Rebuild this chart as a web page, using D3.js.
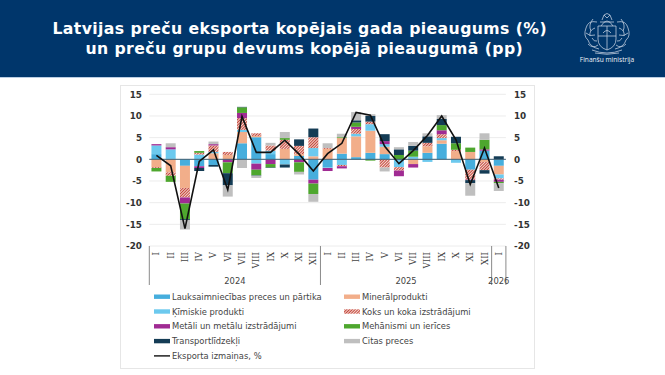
<!DOCTYPE html>
<html><head><meta charset="utf-8">
<script src="https://cdn.jsdelivr.net/npm/d3@7"></script>
<style>html,body{margin:0;padding:0;background:#fff;overflow:hidden}svg{display:block}</style>
</head><body><svg id="c" width="665" height="375"></svg>
<script>
const titleLines = ["Latvijas preču eksporta kopējais gada pieaugums (%)", "un preču grupu devums kopējā pieaugumā (pp)"];
const months = ["I","II","III","IV","V","VI","VII","VIII","IX","X","XI","XII","I","II","III","IV","V","VI","VII","VIII","IX","X","XI","XII","I"];
const years = [["2024",0,12],["2025",12,24],["2026",24,25]];
const seriesNames = ["Lauksaimniecības preces un pārtika","Minerālprodukti","Ķīmiskie produkti","Koks un koka izstrādājumi","Metāli un metālu izstrādājumi","Mehānismi un ierīces","Transportlīdzekļi","Citas preces"];
const lineName = "Eksporta izmaiņas, %";
const agri      = [1.2,0.1,-1.5,-1.6,-1.3,0,3.7,5.1,1.2,0,0.8,-4.7,-1.9,1.3,0.5,1.5,1.2,0,0.2,1.5,3.6,0,-2.4,2.0,-1.5];
const mineral   = [-1.8,-3.0,-5.1,0,1.4,1.0,2.6,0.3,0,2.4,0.4,0.7,2.4,3.6,4.8,5.1,1.7,0,-1.1,1.5,0.8,1.9,1.7,-0.6,-2.0];
const chemical  = [2.0,2.2,0,1.1,0.3,0,0.5,-1.0,0.8,-1.2,0,1.9,-0.1,-1.3,0.6,1.5,0.6,-1.8,0.4,-0.6,0.5,-0.8,0,0,-0.9];
const wood      = [-0.2,-0.8,-2.2,0.4,1.5,0.7,2.7,0.6,1.2,2.1,1.9,2.5,0.2,-0.3,1.1,0.6,-1.9,-0.8,0,0.8,0.9,0.3,-2.3,-1.9,-0.3];
const metals    = [0.3,0.5,-1.4,-0.4,0.3,-0.7,1.2,-1.4,-1.1,0,-0.7,-0.9,-0.7,-0.5,0.5,0,0.7,-1.3,-0.8,0,0.9,0,-0.1,0.3,-0.5];
const machinery = [-0.8,-1.4,-3.6,0.4,0,-2.5,1.3,-1.3,-0.8,0.4,-2.2,-2.4,0,0.2,1.0,-0.3,0,1.0,1.4,0,1.2,1.5,1.0,2.2,-0.3];
const transport = [0,0,-0.2,-0.7,-0.4,-2.8,0.1,-0.1,-0.1,-0.7,1.5,2.0,0,0,0.5,1.3,1.6,1.3,1.1,1.5,1.4,1.5,-0.7,-0.8,0.7];
const other     = [0,0.9,-2.2,0,0.6,-2.6,-2.0,-0.5,0.6,1.4,-0.6,-1.8,1.1,0.8,1.9,0.4,-0.9,0.5,0.9,0.7,0.9,0,-2.9,1.5,-1.8];
const totalChange = [0.9,-1.5,-16,-0.5,2.2,-7,9.9,1.6,1.6,4.4,1.2,-2.7,1.3,3.7,10.8,10.2,3,-1,2,5.5,10,4.5,-5.8,2.6,-6.6];
const yTicks = [15,10,5,0,-5,-10,-15,-20];
const colors = ["#46aedd","#f2ae8a","#6cc9ee","url(#hatch)","#a02b93","#4ea72e","#143c55","#bfbfbf"];
const lineColor = "#111";

const svg = d3.select("#c");
const defs = svg.append("defs");
const pat = defs.append("pattern").attr("id","hatch").attr("patternUnits","userSpaceOnUse").attr("width",2).attr("height",2).attr("patternTransform","rotate(45)");
pat.append("rect").attr("width",2).attr("height",2).attr("fill","#f3d6cf");
pat.append("rect").attr("width",1).attr("height",2).attr("fill","#c4453a");

svg.append("rect").attr("width",665).attr("height",375).attr("fill","#fff");
svg.append("rect").attr("width",665).attr("height",77).attr("fill","#00366b");
svg.append("rect").attr("y",77).attr("width",665).attr("height",1).attr("fill","#b9cde3");
svg.selectAll("text.title").data(titleLines).join("text").attr("class","title")
  .attr("x",(d,i)=>i?304.3:299.7).attr("y",(d,i)=>33.5+i*20.5).attr("text-anchor","middle")
  .attr("font-family","DejaVu Sans").attr("font-weight","bold").attr("font-size",15.7).attr("letter-spacing",0.4).attr("fill","#fff").text(d=>d);

// crest
const crest = svg.append("g").attr("fill","none").attr("stroke","#d3dcea").attr("stroke-width",0.8).attr("opacity",0.9);
crest.append("path").attr("d","M598 26 h18 v13 q0 8 -9 11 q-9 -3 -9 -11 z M598 36 h18 M607 26 v24");
crest.append("path").attr("d","M601 26 q6 -10 12 0 M603 33 q4 -5 8 0 M600 22 h14 M602 20 l2 -5 3 3 3 -3 2 5 M604 15 q3 -3 6 0");
crest.append("path").attr("d","M597 22 q-9 -2 -11 6 q-3 8 2 12 q2 7 11 9 M595 28 q-6 2 -5 8 M593 19 q-5 6 -2 12 M588 44 q5 5 10 1 M586 33 q4 4 9 2 M592 38 q2 4 5 3");
crest.append("path").attr("d","M617 22 q9 -2 11 6 q3 8 -2 12 q-2 7 -11 9 M619 28 q6 2 5 8 M621 19 q5 6 2 12 M626 44 q-5 5 -10 1 M628 33 q-4 4 -9 2 M622 38 q-2 4 -5 3");
crest.append("path").attr("d","M592 50 q15 6 30 0 M595 53 q12 2.5 24 0");
svg.append("text").attr("x",607).attr("y",62).attr("text-anchor","middle").attr("font-family","Open Sans").attr("font-size",6.6).attr("fill","#eef2f8").text("Finanšu ministrija");

// panel
svg.append("rect").attr("x",120.5).attr("y",85.5).attr("width",414).attr("height",283).attr("fill","#fff").attr("stroke","#e6e6e6");

const x = d3.scaleBand().domain(d3.range(months.length)).range([149.3,505.9]).paddingInner(0.3).paddingOuter(0.15);
const y = d3.scaleLinear().domain([-20,15]).range([246,94.3]);
const cx = i=>x(i)+x.bandwidth()/2;

const g = svg.append("g");
g.selectAll("line.grid").data(yTicks).join("line").attr("class","grid")
  .attr("x1",149.3).attr("x2",505.9).attr("y1",d=>y(d)).attr("y2",d=>y(d)).attr("stroke","#ececec").attr("stroke-width",1);

const allSeries = [agri,mineral,chemical,wood,metals,machinery,transport,other];
const rows = months.map((m,i)=>{const o={i};allSeries.forEach((s,k)=>o[k]=s[i]);return o;});
const stack = d3.stack().keys(d3.range(allSeries.length)).offset(d3.stackOffsetDiverging)(rows);
g.selectAll("g.s").data(stack).join("g").attr("class","s").attr("fill",(d,k)=>colors[k])
  .selectAll("rect").data(d=>d).join("rect")
  .attr("x",d=>x(d.data.i)).attr("width",x.bandwidth())
  .attr("y",d=>y(Math.max(d[0],d[1]))).attr("height",d=>Math.abs(y(d[0])-y(d[1])));

g.append("line").attr("x1",149.3).attr("x2",505.9).attr("y1",y(0)).attr("y2",y(0)).attr("stroke","#3f5f73").attr("stroke-width",1);

g.append("path").datum(totalChange).attr("fill","none").attr("stroke",lineColor).attr("stroke-width",1.6).attr("stroke-linejoin","miter")
  .attr("d",d3.line().x((d,i)=>cx(i)).y(d=>y(d)));

// y axes
const fmt = d=>String(d);
const axL = g.append("g").attr("transform","translate(142,0)").call(d3.axisLeft(y).tickValues(yTicks).tickSize(0).tickPadding(0).tickFormat(fmt));
const axR = g.append("g").attr("transform","translate(514,0)").call(d3.axisRight(y).tickValues(yTicks).tickSize(0).tickPadding(0).tickFormat(fmt));
[axL,axR].forEach(a=>{a.select(".domain").remove();a.selectAll("text").attr("font-family","DejaVu Sans").attr("font-weight","bold").attr("font-size",8.8).attr("fill","#333");});

// x categories
g.selectAll("text.m").data(months).join("text").attr("class","m")
  .attr("transform",(d,i)=>`translate(${cx(i)+3},252) rotate(-90)`).attr("text-anchor","end")
  .attr("font-family","DejaVu Serif").attr("font-size",8.6).attr("fill","#444").text(d=>d);
const edge = i=>149.3+(505.9-149.3)*i/months.length;
const seps = [0,12,24,25];
g.selectAll("line.sep").data(seps).join("line").attr("class","sep")
  .attr("x1",d=>edge(d)).attr("x2",d=>edge(d)).attr("y1",246).attr("y2",285).attr("stroke","#8a8a8a").attr("stroke-width",1);
g.selectAll("text.y").data(years).join("text").attr("class","y")
  .attr("x",d=>(edge(d[1])+edge(d[2]))/2).attr("y",284).attr("text-anchor","middle")
  .attr("font-family","DejaVu Sans").attr("font-size",8.4).attr("fill","#444").text(d=>d[0]);

// legend
const legendItems = seriesNames.map((n,k)=>({n,k})).concat([{n:lineName,k:-1}]);
const lg = svg.selectAll("g.l").data(legendItems).join("g").attr("class","l")
  .attr("transform",(d,i)=>`translate(${i%2?344:154},${296.7+Math.floor(i/2)*14.8})`);
lg.filter(d=>d.k>=0).append("rect").attr("y",-2.2).attr("width",16).attr("height",4.4).attr("fill",d=>colors[d.k]);
lg.filter(d=>d.k<0).append("line").attr("x2",16).attr("stroke",lineColor).attr("stroke-width",1.4);
lg.append("text").attr("x",18).attr("y",3.1).attr("font-family","DejaVu Sans").attr("font-size",8.35).attr("fill","#444").text(d=>d.n);
</script></body></html>
